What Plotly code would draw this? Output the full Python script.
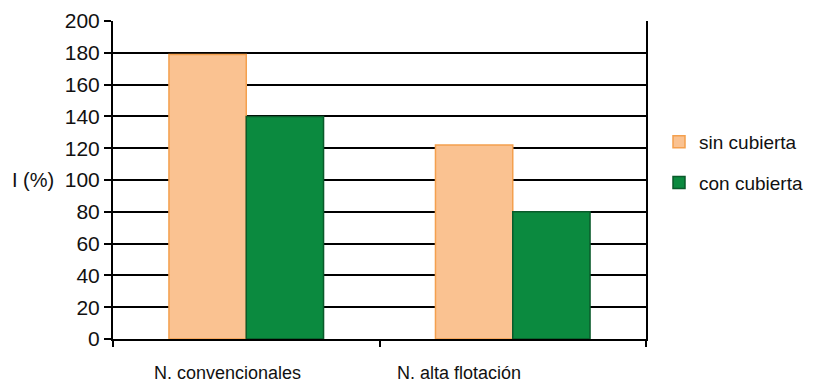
import plotly.graph_objects as go

categories = ["N. convencionales", "N. alta flotación"]
sin_cubierta = [179, 122]
con_cubierta = [140, 80]
series_names = ["sin cubierta", "con cubierta"]
y_ticks = [0, 20, 40, 60, 80, 100, 120, 140, 160, 180, 200]

fig = go.Figure()
fig.add_trace(go.Bar(
    x=categories, y=sin_cubierta, name=series_names[0],
    marker=dict(color="#FAC291", line=dict(color="#F4A04E", width=1.5)),
    legendgroup="a"))
fig.add_trace(go.Bar(
    x=categories, y=con_cubierta, name=series_names[1],
    marker=dict(color="#0B8A3F", line=dict(color="#0A5A2A", width=1.5)),
    legendgroup="b"))

font = "Liberation Sans, Arial, sans-serif"
L, R, T, B = 113, 168, 21, 48
PW, PH = 814 - L - R, 387 - T - B

fig.update_layout(
    width=814, height=387,
    margin=dict(l=L, r=R, t=T, b=B, autoexpand=False),
    paper_bgcolor="white", plot_bgcolor="white",
    barmode="group", bargap=0.42, bargroupgap=0,
    font=dict(family=font, color="#111111"),
    showlegend=True,
    legend=dict(x=(659 - L) / PW, y=1 - (123 - T) / PH, xanchor="left", yanchor="top",
                font=dict(size=19, family=font, color="#111111"),
                tracegroupgap=13, itemwidth=30, bgcolor="rgba(0,0,0,0)"),
    xaxis=dict(showline=True, linecolor="black", linewidth=2,
               ticks="outside", tickson="boundaries", ticklen=6,
               tickcolor="black", tickwidth=2,
               showticklabels=False, showgrid=False),
    yaxis=dict(range=[0, 200], tickvals=y_ticks, showline=True,
               linecolor="black", linewidth=2, mirror=True,
               ticks="outside", ticklen=7, tickcolor="black", tickwidth=2,
               showgrid=True, gridcolor="black", gridwidth=2,
               tickfont=dict(size=21, family=font, color="#111111"),
               zeroline=False),
)

label_shifts = [-19, -54]
for cat, sh in zip(categories, label_shifts):
    fig.add_annotation(x=cat, y=0, xref="x", yref="y", yanchor="top",
                       yshift=-22, xshift=sh, text=cat, showarrow=False,
                       font=dict(size=18, family=font, color="#111111"))

fig.add_annotation(x=(33 - L) / PW, y=1 - (180 - T) / PH, xref="paper", yref="paper",
                   xanchor="center", yanchor="middle", text="I (%)",
                   showarrow=False, font=dict(size=20, family=font, color="#111111"))

fig.write_html("out.html")
